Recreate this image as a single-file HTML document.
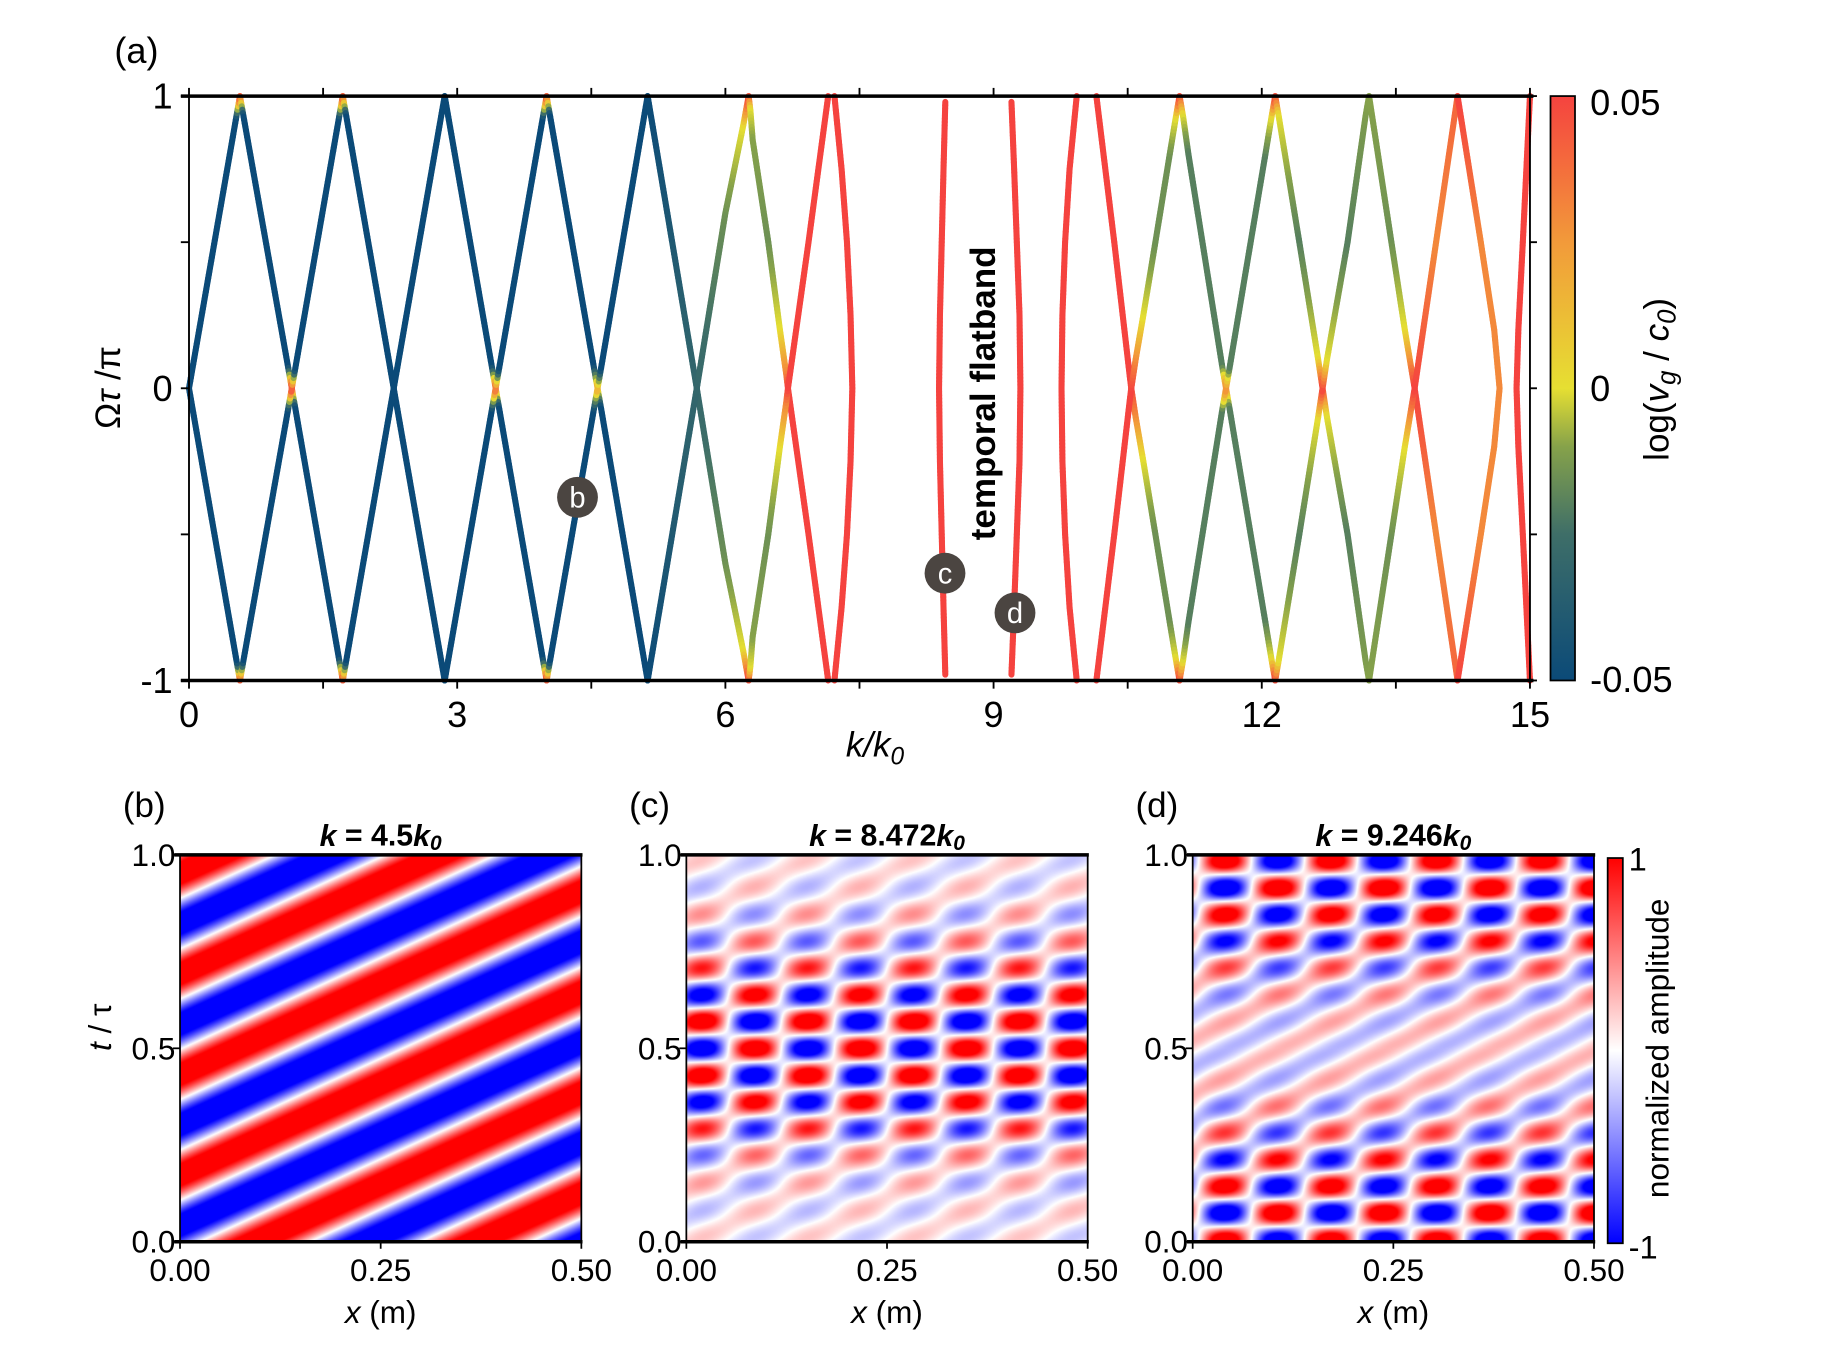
<!DOCTYPE html>
<html><head><meta charset="utf-8"><style>
html,body{margin:0;padding:0;background:#fff;}
#wrap{position:relative;width:1827px;height:1346px;overflow:hidden;}
svg{position:absolute;left:0;top:0;}
canvas{position:absolute;}
text{font-family:"Liberation Sans",Arial,sans-serif;fill:#000;}
</style></head><body>
<div id="wrap">
<canvas id="hb"></canvas>
<canvas id="hc"></canvas>
<canvas id="hd"></canvas>
<svg id="svg" width="1827" height="1346" viewBox="0 0 1566 1153" preserveAspectRatio="none">
<defs>
<linearGradient id="cbA" x1="0" y1="1" x2="0" y2="0">
<stop offset="0" stop-color="#0b4a78"/><stop offset="0.25" stop-color="#3e6e68"/><stop offset="0.4" stop-color="#86a24a"/><stop offset="0.5" stop-color="#e6df32"/><stop offset="0.75" stop-color="#f29a3a"/><stop offset="1" stop-color="#f5433f"/>
</linearGradient>
<linearGradient id="cbB" x1="0" y1="1" x2="0" y2="0">
<stop offset="0" stop-color="#0000ff"/><stop offset="0.5" stop-color="#ffffff"/><stop offset="1" stop-color="#ff0000"/>
</linearGradient>
</defs>
<g id="bands"></g>
<g id="axesA"></g>
<text x="98" y="54" font-size="31">(a)</text>
<text x="750" y="648" font-size="30" font-style="italic" text-anchor="middle">k/k<tspan font-size="21" dy="7">0</tspan></text>
<text transform="translate(103,332) rotate(-90)" font-size="30" text-anchor="middle">Ω<tspan font-style="italic">τ</tspan> /π</text>
<rect x="1329" y="82.3" width="21" height="500.6" fill="url(#cbA)" stroke="#000" stroke-width="1.5"/>
<text x="1363" y="88" font-size="31" dominant-baseline="central">0.05</text>
<text x="1363" y="333" font-size="31" dominant-baseline="central">0</text>
<text x="1363" y="582" font-size="31" dominant-baseline="central">-0.05</text>
<text transform="translate(1430,325) rotate(-90)" font-size="30" text-anchor="middle">log(<tspan font-style="italic">v</tspan><tspan font-style="italic" font-size="22" dy="6">g</tspan><tspan dy="-6"> / </tspan><tspan font-style="italic">c</tspan><tspan font-style="italic" font-size="22" dy="6">0</tspan><tspan dy="-6">)</tspan></text>
<text transform="translate(853,337) rotate(-90)" font-size="30" font-weight="bold" text-anchor="middle">temporal flatband</text>
<g><circle cx="495" cy="426" r="17.5" fill="#4b4541"/><text x="495" y="427" font-size="25" style="fill:#fff" text-anchor="middle" dominant-baseline="central">b</text></g>
<g><circle cx="810" cy="491" r="17.5" fill="#4b4541"/><text x="810" y="492" font-size="25" style="fill:#fff" text-anchor="middle" dominant-baseline="central">c</text></g>
<g><circle cx="870" cy="525" r="17.5" fill="#4b4541"/><text x="870" y="526" font-size="25" style="fill:#fff" text-anchor="middle" dominant-baseline="central">d</text></g>
<g id="axesB"></g>
<rect x="1378" y="735" width="13" height="330" fill="url(#cbB)" stroke="#000" stroke-width="1.5"/>
<text x="1396" y="736" font-size="28" dominant-baseline="central">1</text>
<text x="1396" y="1068" font-size="28" dominant-baseline="central">-1</text>
<text transform="translate(1430,898) rotate(-90)" font-size="27" text-anchor="middle">normalized amplitude</text>
<text transform="translate(95,880) rotate(-90)" font-size="27" text-anchor="middle"><tspan font-style="italic">t</tspan> / τ</text>
</svg>
</div>
<script>
// ---------- Panel (a) band data: k values, Omega values, log(vg/c0) values ----------
const bandK = [
 [0.57,0.53,0,0.53,0.57],
 [0.57,0.61,1.11,1.15,1.19,1.68,1.72],
 [0.57,0.61,1.11,1.15,1.19,1.68,1.72],
 [1.72,1.76,2.29,2.82,2.86],
 [1.72,1.76,2.29,2.82,2.86],
 [2.86,3.39,3.43,3.47,3.96,4.0],
 [2.86,3.39,3.43,3.47,3.96,4.0],
 [4.0,4.04,4.53,4.57,4.61,5.13],
 [4.0,4.04,4.53,4.57,4.61,5.13],
 [5.13,5.68,6.0,6.2,6.26],
 [5.13,5.68,6.0,6.2,6.26],
 [6.26,6.28,6.305,6.48,6.61,6.68,6.7,6.93,7.15],
 [6.26,6.28,6.305,6.48,6.61,6.68,6.7,6.93,7.15],
 [7.22,7.3,7.36,7.4,7.42,7.4,7.36,7.3,7.22],
 [8.46,8.44,8.42,8.4,8.39,8.4,8.42,8.44,8.46],
 [9.2,9.23,9.26,9.29,9.3,9.29,9.26,9.23,9.2],
 [9.93,9.85,9.8,9.77,9.76,9.77,9.8,9.85,9.93],
 [10.15,10.35,10.52,10.54,10.59,10.675,10.81,10.97,11.04,11.08],
 [10.15,10.35,10.52,10.54,10.59,10.675,10.81,10.97,11.04,11.08],
 [11.08,11.12,11.18,11.56,11.6,11.64,12.04,12.11,12.15],
 [11.08,11.12,11.18,11.56,11.6,11.64,12.04,12.11,12.15],
 [12.15,12.19,12.42,12.63,12.68,12.73,12.96,13.16,13.2],
 [12.15,12.19,12.42,12.63,12.68,12.73,12.96,13.16,13.2],
 [13.2,13.45,13.6,13.71,13.95,14.19],
 [13.2,13.45,13.6,13.71,13.95,14.19],
 [14.19,14.45,14.6,14.66,14.6,14.45,14.19],
 [15,14.92,14.87,14.85,14.87,14.92,15]
];
const bandW = [
 [-1,-0.93,0,0.93,1],
 [1,0.93,0.07,0,-0.07,-0.93,-1],
 [-1,-0.93,-0.07,0,0.07,0.93,1],
 [1,0.93,0,-0.93,-1],
 [-1,-0.93,0,0.93,1],
 [1,0.07,0,-0.07,-0.93,-1],
 [-1,-0.07,0,0.07,0.93,1],
 [1,0.93,0.07,0,-0.07,-1],
 [-1,-0.93,-0.07,0,0.07,1],
 [1,0,-0.6,-0.9,-1],
 [-1,0,0.6,0.9,1],
 [1,0.95,0.85,0.5,0.2,0.05,0,-0.5,-1],
 [-1,-0.95,-0.85,-0.5,-0.2,-0.05,0,0.5,1],
 [-1,-0.75,-0.5,-0.25,0,0.25,0.5,0.75,1],
 [-0.98,-0.75,-0.5,-0.25,0,0.25,0.5,0.75,0.98],
 [-0.98,-0.75,-0.5,-0.25,0,0.25,0.5,0.75,0.98],
 [-1,-0.75,-0.5,-0.25,0,0.25,0.5,0.75,1],
 [1,0.5,0.05,0,-0.1,-0.25,-0.5,-0.8,-0.93,-1],
 [-1,-0.5,-0.05,0,0.1,0.25,0.5,0.8,0.93,1],
 [1,0.93,0.8,0.07,0,-0.07,-0.8,-0.93,-1],
 [-1,-0.93,-0.8,-0.07,0,0.07,0.8,0.93,1],
 [1,0.93,0.5,0.1,0,-0.1,-0.5,-0.93,-1],
 [-1,-0.93,-0.5,-0.1,0,0.1,0.5,0.93,1],
 [1,0.5,0.2,0,-0.5,-1],
 [-1,-0.5,-0.2,0,0.5,1],
 [-1,-0.5,-0.2,0,0.2,0.5,1],
 [-1,-0.5,-0.2,0,0.2,0.5,1]
];
const bandV = [
 [0.05,-0.05,-0.05,-0.05,0.05],
 [0.05,-0.05,-0.05,0.05,-0.05,-0.05,0.05],
 [0.05,-0.05,-0.05,0.05,-0.05,-0.05,0.05],
 [0.05,-0.05,-0.05,-0.05,-0.05],
 [0.05,-0.05,-0.05,-0.05,-0.05],
 [-0.05,-0.05,0.04,-0.05,-0.05,0.05],
 [-0.05,-0.05,0.04,-0.05,-0.05,0.05],
 [0.05,-0.05,-0.05,0.02,-0.05,-0.05],
 [0.05,-0.05,-0.05,0.02,-0.05,-0.05],
 [-0.05,-0.03,-0.015,0,0.05],
 [-0.05,-0.03,-0.015,0,0.05],
 [0.05,0,-0.01,-0.015,0,0.03,0.05,0.05,0.05],
 [0.05,0,-0.01,-0.015,0,0.03,0.05,0.05,0.05],
 [0.05,0.05,0.05,0.05,0.05,0.05,0.05,0.05,0.05],
 [0.05,0.05,0.05,0.05,0.05,0.05,0.05,0.05,0.05],
 [0.05,0.05,0.05,0.05,0.05,0.05,0.05,0.05,0.05],
 [0.05,0.05,0.05,0.05,0.05,0.05,0.05,0.05,0.05],
 [0.05,0.05,0.05,0.05,0.03,0,-0.015,-0.015,0,0.05],
 [0.05,0.05,0.05,0.05,0.03,0,-0.015,-0.015,0,0.05],
 [0.05,0,-0.02,-0.02,0.03,-0.02,-0.02,0,0.05],
 [0.05,0,-0.02,-0.02,0.03,-0.02,-0.02,0,0.05],
 [0.05,0,-0.02,0,0.05,0,-0.02,-0.012,-0.01],
 [0.05,0,-0.02,0,0.05,0,-0.02,-0.012,-0.01],
 [-0.01,-0.015,0,0.05,0.03,0.04],
 [-0.01,-0.015,0,0.05,0.03,0.04],
 [0.05,0.03,0.03,0.03,0.03,0.03,0.05],
 [0.05,0.05,0.05,0.05,0.05,0.05,0.05]
];
const xTicksA = [0,3,6,9,12,15];
const xTickLabelsA = ["0","3","6","9","12","15"];
const yTicksA = [-1,0,1];
const yTickLabelsA = ["-1","0","1"];

// ---------- Bottom heatmap data ----------
const envT = [0,0.1,0.2,0.3,0.4,0.5,0.6,0.7,0.8,0.9,1.0];
const checkAmpC = [0.05,0.1,0.25,0.6,0.95,1.0,0.95,0.6,0.3,0.12,0.05];
const travelAmpC = [0.12,0.12,0.12,0.12,0.1,0.05,0.1,0.12,0.12,0.12,0.12];
const checkAmpD = [1.0,1.0,0.7,0.35,0.08,0,0.08,0.35,0.75,1.0,1.0];
const travelAmpD = [0.04,0.08,0.15,0.2,0.22,0.22,0.22,0.2,0.15,0.08,0.04];
const titleK = ["4.5","8.472","9.246"];
const xTicksB = [0,0.25,0.5];
const xTickLabelsB = ["0.00","0.25","0.50"];
const yTicksB = [0,0.5,1];
const yTickLabelsB = ["0.0","0.5","1.0"];

const NS="http://www.w3.org/2000/svg";
function mk(tag,attrs,parent){const e=document.createElementNS(NS,tag);for(const k in attrs)e.setAttribute(k,attrs[k]);parent.appendChild(e);return e;}
const X0=162,X1=1311.4,Y1=82.3,Ym1=582.9;
const xA=k=>X0+(X1-X0)*k/15;
const yA=w=>(Y1+Ym1)/2-w*(Ym1-Y1)/2;
const cstops=[[0,[11,74,120]],[0.25,[62,110,104]],[0.4,[134,162,74]],[0.5,[230,223,50]],[0.75,[242,154,58]],[1,[245,67,63]]];
function cmap(v){let t=(v+0.05)/0.1;t=Math.max(0,Math.min(1,t));for(let i=1;i<cstops.length;i++){if(t<=cstops[i][0]){const a=cstops[i-1],b=cstops[i];const f=(t-a[0])/(b[0]-a[0]);const c=a[1].map((x,j)=>Math.round(x+(b[1][j]-x)*f));return`rgb(${c[0]},${c[1]},${c[2]})`;}}return"rgb(245,67,63)";}

const bg=document.getElementById('bands');
bandK.forEach((ks,ci)=>{
 const ws=bandW[ci],vs=bandV[ci];
 const g=mk('g',{},bg);
 
 
 for(let i=0;i<ks.length-1;i++){
  const x1=xA(ks[i]),y1=yA(ws[i]),x2=xA(ks[i+1]),y2=yA(ws[i+1]);
  const n=Math.max(1,Math.ceil(Math.hypot(x2-x1,y2-y1)/3));
  for(let j=0;j<n;j++){
   const f0=j/n,f1=(j+1)/n,fm=(j+0.5)/n;
   const seg=mk('line',{x1:x1+(x2-x1)*f0,y1:y1+(y2-y1)*f0,x2:x1+(x2-x1)*f1,y2:y1+(y2-y1)*f1,stroke:cmap(vs[i]+(vs[i+1]-vs[i])*fm),'stroke-width':5.2,'stroke-linecap':'round'},g);
   
   
  }
 }
});

const ax=document.getElementById('axesA');
const fr=mk('rect',{x:X0,y:Y1,width:X1-X0,height:Ym1-Y1,fill:'none',stroke:'#000','stroke-width':1.6},ax);

[Y1,Ym1].forEach(y=>{const l=mk('line',{x1:X0-7,x2:X1+3,y1:y,y2:y,stroke:'#000','stroke-width':3},ax);});
for(let k=0;k<=15;k+=1.5){
 const l1=mk('line',{x1:xA(k),x2:xA(k),y1:Ym1,y2:Ym1+7,stroke:'#000','stroke-width':1.6},ax);
 
 const l2=mk('line',{x1:xA(k),x2:xA(k),y1:Y1,y2:Y1-7,stroke:'#000','stroke-width':1.6},ax);
 
}
for(let w=-1;w<=1;w+=0.5){
 const l1=mk('line',{x1:X0-7,x2:X0,y1:yA(w),y2:yA(w),stroke:'#000','stroke-width':1.6},ax);
 
 const l2=mk('line',{x1:X1,x2:X1+6,y1:yA(w),y2:yA(w),stroke:'#000','stroke-width':1.6},ax);
 
}
xTicksA.forEach((k,i)=>{const t=mk('text',{x:xA(k),y:612,'font-size':31,'text-anchor':'middle','dominant-baseline':'central'},ax);t.textContent=xTickLabelsA[i];});
yTicksA.forEach((w,i)=>{const t=mk('text',{x:148,y:yA(w),'font-size':31,'text-anchor':'end','dominant-baseline':'central'},ax);t.textContent=yTickLabelsA[i];});

const S=1827/1566, SY=1346/1153;
const panels=[{id:'hb',x:154.3,l:'(b)'},{id:'hc',x:588.3,l:'(c)'},{id:'hd',x:1022.3,l:'(d)'}];
const PW=344,PT=732.3,PB=1063.7;
function interp(arr,t){const p=t*10;const i=Math.min(9,Math.floor(p));const f=p-i;return arr[i]+(arr[i+1]-arr[i])*f;}
function field(pi,x,t){
 const TP=2*Math.PI;
 if(pi===0){return 1.3*Math.cos(TP*((x-0.05)/0.275-(t-1)/0.26));}
 if(pi===1){
  const ch=-Math.cos(TP*(x-0.02)/0.132)*Math.cos(TP*(t-0.5)/0.14);
  const tr=Math.cos(TP*((x-0.02)/0.132-(t-0.5)/0.14));
  return 1.35*(interp(checkAmpC,t)*ch-interp(travelAmpC,t)*tr);
 }
 const ch=Math.cos(TP*(x-0.04)/0.132)*Math.cos(TP*(t-0.985)/0.14);
 const tr=Math.cos(TP*((x-0.04)/0.132-(t-0.985)/0.14));
 return 1.35*(interp(checkAmpD,t)*ch+interp(travelAmpD,t)*tr);
}
const axB=document.getElementById('axesB');
panels.forEach((p,pi)=>{
 const cv=document.getElementById(p.id);
 const L=Math.round(p.x*S),T=Math.round(PT*SY),W=Math.round(PW*S),H=Math.round((PB-PT)*SY);
 cv.width=W;cv.height=H;cv.style.left=L+'px';cv.style.top=T+'px';
 const ctx=cv.getContext('2d');const img=ctx.createImageData(W,H);
 for(let j=0;j<H;j++){const t=1-(j+0.5)/H;for(let i=0;i<W;i++){const x=0.5*(i+0.5)/W;let v=field(pi,x,t);v=Math.max(-1,Math.min(1,v));let r,g,b;if(v>=0){r=255;g=b=Math.round(255*(1-v));}else{b=255;r=g=Math.round(255*(1+v));}const o=(j*W+i)*4;img.data[o]=r;img.data[o+1]=g;img.data[o+2]=b;img.data[o+3]=255;}}
 ctx.putImageData(img,0,0);
 const x0=p.x,x1=p.x+PW;
 const xs=v=>x0+PW*v/0.5, ys=v=>PB-(PB-PT)*v;
 const r=mk('rect',{x:x0,y:PT,width:PW,height:PB-PT,fill:'none',stroke:'#000','stroke-width':1.5},axB);
 
 [PT,PB].forEach(y=>{const l=mk('line',{x1:x0-5,x2:x1+1,y1:y,y2:y,stroke:'#000','stroke-width':3},axB);});
 xTicksB.forEach((v,i)=>{
  const l=mk('line',{x1:xs(v),x2:xs(v),y1:PB,y2:PB+6,stroke:'#000','stroke-width':1.5},axB);
  const t=mk('text',{x:xs(v),y:1088,'font-size':27,'text-anchor':'middle','dominant-baseline':'central'},axB);t.textContent=xTickLabelsB[i];
 });
 yTicksB.forEach((v,i)=>{
  const l=mk('line',{x1:x0-6,x2:x0,y1:ys(v),y2:ys(v),stroke:'#000','stroke-width':1.5},axB);
  const t=mk('text',{x:x0-4,y:ys(v),'font-size':27,'text-anchor':'end','dominant-baseline':'central'},axB);t.textContent=yTickLabelsB[i];
 });
 const xl=mk('text',{x:x0+PW/2,y:1124,'font-size':27,'text-anchor':'middle','dominant-baseline':'central'},axB);
 xl.innerHTML='<tspan font-style="italic">x</tspan> (m)';
 
 const tt=mk('text',{x:x0+PW/2,y:716,'font-size':26,'font-weight':'bold','text-anchor':'middle','dominant-baseline':'central'},axB);
 tt.innerHTML='<tspan font-style="italic">k</tspan> = '+titleK[pi]+'<tspan font-style="italic">k</tspan><tspan font-style="italic" font-size="18" dy="6">0</tspan>';
 
 const pl=mk('text',{x:x0-49,y:690,'font-size':30,'dominant-baseline':'central'},axB);pl.textContent=p.l;
 
});
</script>
</body></html>
